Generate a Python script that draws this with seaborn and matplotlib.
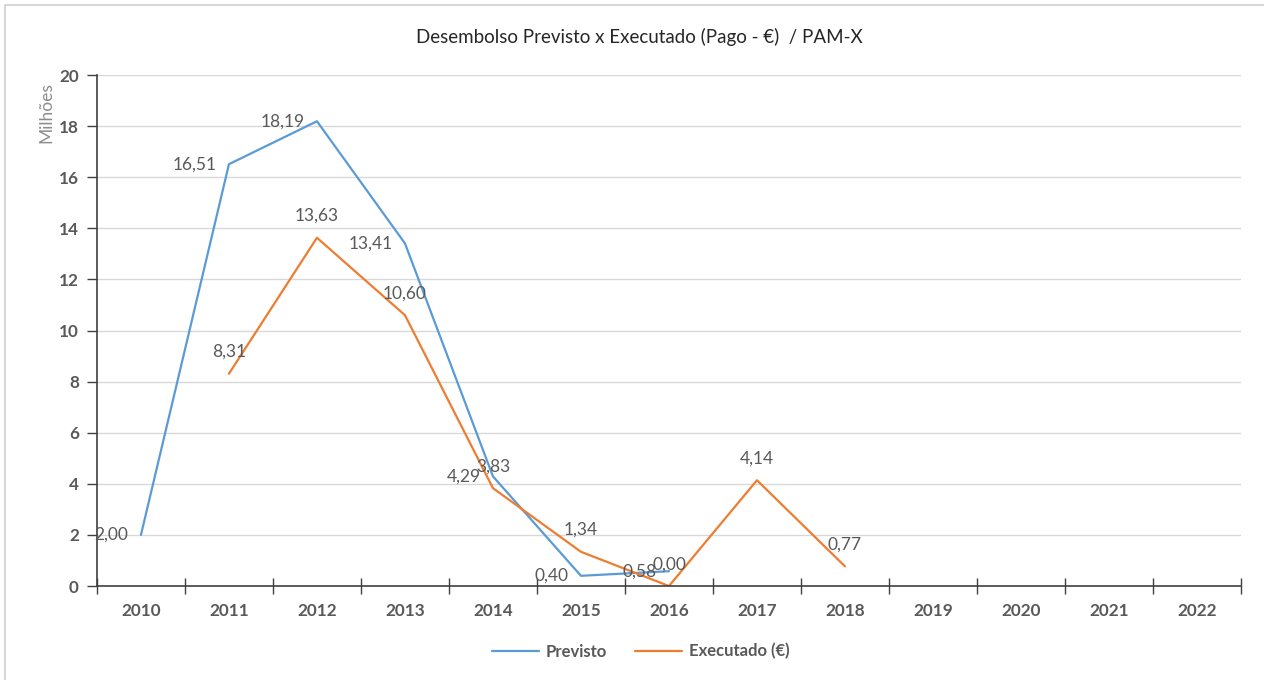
import numpy as np
import pandas as pd
import seaborn as sns
import matplotlib.pyplot as plt
from matplotlib.patches import Rectangle
from matplotlib.lines import Line2D
from matplotlib.ticker import FixedLocator

# Dados do gráfico (milhões de euros)
anos = ["2010", "2011", "2012", "2013", "2014", "2015", "2016",
        "2017", "2018", "2019", "2020", "2021", "2022"]
previsto = [2.00, 16.51, 18.19, 13.41, 4.29, 0.40, 0.58,
            None, None, None, None, None, None]
executado = [None, 8.31, 13.63, 10.60, 3.83, 1.34, 0.00,
             4.14, 0.77, None, None, None, None]

cor_previsto = "#5B9BD5"
cor_executado = "#ED7D31"
cinza = "#595959"

df = pd.DataFrame({
    "pos": list(range(len(anos))) * 2,
    "valor": previsto + executado,
    "serie": ["Previsto"] * len(anos) + ["Executado (€)"] * len(anos),
}).dropna()

sns.set_style("white")
plt.rcParams["font.family"] = ["Lato", "DejaVu Sans"]

fig = plt.figure(figsize=(12.64, 6.8), dpi=100)
ax = fig.add_axes([0.0767, 0.1382, 0.9051, 0.7515])

sns.lineplot(data=df, x="pos", y="valor", hue="serie",
             palette={"Previsto": cor_previsto, "Executado (€)": cor_executado},
             linewidth=1.6, ax=ax, legend=False)

# rótulos de dados
for i, v in enumerate(previsto):
    if v is not None:
        ax.annotate(f"{v:.2f}".replace(".", ","), (i, v), xytext=(-9, 0),
                    textcoords="offset points", ha="right", va="center",
                    fontsize=12.5, color=cinza)
for i, v in enumerate(executado):
    if v is not None:
        ax.annotate(f"{v:.2f}".replace(".", ","), (i, v), xytext=(0, 10),
                    textcoords="offset points", ha="center", va="bottom",
                    fontsize=12.5, color=cinza)

ax.set_xlim(-0.5, len(anos) - 0.5)
ax.set_ylim(0, 20)
ax.set_yticks(range(0, 21, 2))
ax.set_xticks(range(len(anos)))
ax.set_xticklabels(anos)
ax.xaxis.set_minor_locator(FixedLocator(np.arange(-0.5, len(anos), 1)))
ax.tick_params(axis="x", which="major", bottom=False, length=0, pad=12,
               labelsize=12.3, labelcolor=cinza)
ax.tick_params(axis="x", which="minor", bottom=True, length=12, width=1,
               direction="inout", color="#404040")
ax.tick_params(axis="y", left=True, length=7, width=1, direction="out",
               color="#404040", labelsize=12.3, labelcolor=cinza, pad=6)
for lab in ax.get_xticklabels() + ax.get_yticklabels():
    lab.set_fontweight("bold")

ax.grid(axis="y", color="#D9D9D9", linewidth=1)
ax.set_axisbelow(True)
for s in ["top", "right"]:
    ax.spines[s].set_visible(False)
for s in ["left", "bottom"]:
    ax.spines[s].set_color("#404040")
    ax.spines[s].set_linewidth(1.2)

ax.set_xlabel("")
ax.set_ylabel("")
fig.text(0.0364, 0.879, "Milhões", rotation=90, ha="center", va="top",
         fontsize=12.5, color="#8C8C8C")

fig.text(0.506, 0.945, "Desembolso Previsto x Executado (Pago - €)  / PAM-X",
         ha="center", va="center", fontsize=13.5, color="#262626")

# legenda
handles = [Line2D([], [], color=cor_previsto, linewidth=1.6),
           Line2D([], [], color=cor_executado, linewidth=1.6)]
leg = fig.legend(handles, ["Previsto", "Executado (€)"], loc="center",
                 bbox_to_anchor=(0.507, 0.042), ncol=2, frameon=False,
                 handlelength=2.8, columnspacing=1.7, handletextpad=0.4,
                 prop={"weight": "bold", "size": 12})
for t in leg.get_texts():
    t.set_color(cinza)

# moldura da área do gráfico
fig.patches.append(Rectangle((0.004, -0.01), 1.2, 1.003, transform=fig.transFigure,
                             fill=False, edgecolor="#D0D0D0", linewidth=1.2))

fig.savefig("out.png", dpi=100)
